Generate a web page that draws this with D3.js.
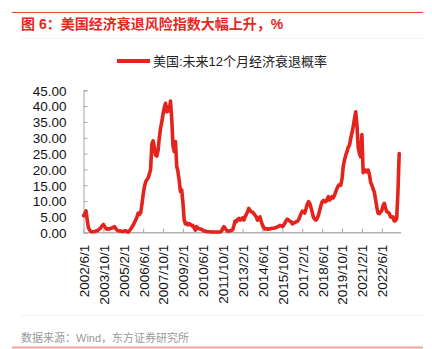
<!DOCTYPE html>
<html>
<head>
<meta charset="utf-8">
<script src="https://cdn.jsdelivr.net/npm/d3@7/dist/d3.min.js"></script>
<style>
  html, body { margin: 0; padding: 0; background: #fff; }
  svg { display: block; }
  text { font-family: "Liberation Sans", Arial, "Noto Sans CJK SC", sans-serif; }
</style>
</head>
<body>
<script>
// Monthly series, first month 2002/6, one value per month (%)
const startYear = 2002;
const startMonth = 6;
const recessionProb = [
  5.4, 6.0, 6.9, 4.0, 1.5, 0.8, 0.4, 0.3, 0.3, 0.4, 0.5, 0.6,
  0.9, 1.2, 1.6, 2.2, 2.6, 2.0, 1.4, 1.1, 1.2, 1.2, 1.4, 1.5,
  1.7, 1.9, 1.3, 0.8, 0.6, 0.5, 0.5, 0.4, 0.4, 0.5, 0.6, 0.3,
  0.2, 0.6, 1.2, 1.8, 2.4, 3.2, 4.0, 5.0, 6.2, 5.8, 6.3, 9.0,
  12.0, 14.5, 16.0, 16.8, 17.3, 18.5, 20.0, 28.0, 29.0, 26.8, 24.5, 24.2,
  26.0, 30.0, 33.0, 35.0, 37.5, 39.5, 40.9, 38.2, 39.8, 38.5, 41.6, 36.0,
  27.5, 25.6, 28.8, 21.0, 19.3, 16.5, 13.0, 13.5, 9.5, 4.0, 2.8, 3.0,
  2.5, 2.9, 2.6, 2.2, 2.3, 1.5, 0.8, 1.9, 1.5, 1.2, 1.2, 1.0,
  0.8, 0.5, 0.5, 0.4, 0.3, 0.3, 0.3, 0.2, 0.2, 0.2, 0.2, 0.2,
  0.2, 0.2, 0.2, 0.6, 1.3, 1.9, 1.4, 0.8, 0.5, 0.5, 0.6, 0.7,
  0.9, 2.2, 3.7, 3.5, 4.2, 4.5, 4.0, 4.3, 4.7, 4.0, 5.0, 5.8,
  6.6, 7.7, 7.0, 6.6, 6.5, 6.1, 5.5, 5.0, 4.0, 4.3, 5.0, 3.5,
  2.4, 1.6, 1.2, 1.3, 1.1, 1.2, 1.2, 1.3, 1.4, 1.4, 1.5, 1.7,
  1.8, 2.0, 2.3, 2.2, 1.9, 2.3, 3.0, 3.8, 4.3, 4.0, 3.6, 3.5,
  2.8, 3.0, 3.2, 3.4, 3.6, 4.0, 5.0, 6.0, 6.8, 6.5, 6.2, 7.5,
  9.0, 9.8, 9.3, 8.0, 6.5, 4.8, 4.3, 4.0, 4.5, 5.5, 7.0, 8.5,
  9.8, 10.2, 9.8, 9.8, 10.5, 11.4, 10.3, 10.8, 11.4, 11.0, 11.9, 13.0,
  14.0, 14.8, 15.2, 15.0, 17.0, 21.0, 23.0, 24.5, 25.6, 27.0, 27.6, 29.8,
  31.5, 33.5, 36.0, 38.2, 34.0, 27.0, 25.0, 24.0, 31.0, 19.0, 19.5, 19.8,
  19.2, 19.8, 18.5, 16.0, 15.0, 13.8, 12.8, 10.5, 8.0, 6.2, 6.0, 6.5,
  7.0, 8.5, 9.3, 7.8, 6.6, 6.5, 6.1, 5.0, 4.8, 5.0, 3.7, 3.8,
  4.5, 13.0, 25.0
];
const yTicks = [0, 5, 10, 15, 20, 25, 30, 35, 40, 45];
const xTickEvery = 16;
const seriesName = "美国:未来12个月经济衰退概率";
const titleText = "图 6：美国经济衰退风险指数大幅上升，%";
const sourceText = "数据来源：Wind，东方证券研究所";

// Month labels in the form YYYY/M/1
const months = recessionProb.map((_, i) => {
  const m0 = startMonth - 1 + i;
  return `${startYear + Math.floor(m0 / 12)}/${(m0 % 12) + 1}/1`;
});
const data = recessionProb.map((v, i) => ({ month: months[i], value: v }));

const W = 432, H = 349;
const svg = d3.select("body").append("svg").attr("width", W).attr("height", H);

const plot = { left: 83.5, right: 399.2, top: 90.3, bottom: 232.7 };

const x = d3.scalePoint().domain(months).range([plot.left, plot.right]);
const y = d3.scaleLinear().domain([0, 45]).range([plot.bottom, plot.top]);

// Frame lines: top red rule, faint separators, bottom pink rule
svg.append("line").attr("x1", 12).attr("x2", 423).attr("y1", 12.5).attr("y2", 12.5)
  .attr("stroke", "#e8413a").attr("stroke-width", 1);
svg.append("line").attr("x1", 20).attr("x2", 423).attr("y1", 38.5).attr("y2", 38.5)
  .attr("stroke", "#f5f5f5").attr("stroke-width", 1);
svg.append("line").attr("x1", 20).attr("x2", 423).attr("y1", 315.5).attr("y2", 315.5)
  .attr("stroke", "#f5f5f5").attr("stroke-width", 1);
svg.append("line").attr("x1", 12).attr("x2", 423).attr("y1", 347.5).attr("y2", 347.5)
  .attr("stroke", "#f2a3a0").attr("stroke-width", 2);

// Title
svg.append("text").attr("x", 21).attr("y", 28.5)
  .attr("font-family", "'Noto Sans CJK SC', sans-serif")
  .attr("font-size", 14).attr("font-weight", "bold").attr("fill", "#e8261e")
  .text(titleText);

// Legend
svg.append("line").attr("x1", 117).attr("x2", 150).attr("y1", 61).attr("y2", 61)
  .attr("stroke", "#e3231c").attr("stroke-width", 4);
svg.append("text").attr("x", 153).attr("y", 65.5)
  .attr("font-family", "'Noto Sans CJK SC', sans-serif")
  .attr("font-size", 13).attr("fill", "#222").text(seriesName);

// Y axis
const yAxis = d3.axisRight(y).tickValues(yTicks).tickSize(4).tickFormat(d3.format(".2f"));
const gy = svg.append("g").attr("transform", `translate(${plot.left},0)`).call(yAxis);
gy.select(".domain").attr("stroke", "#a6a6a6");
gy.selectAll(".tick line").attr("stroke", "#a6a6a6");
gy.selectAll(".tick text").attr("x", -17).attr("text-anchor", "end")
  .attr("font-size", 13.5).attr("fill", "#111").attr("dy", "0.36em");

// X axis with inward ticks
const xAxis = d3.axisTop(x)
  .tickValues(months.filter((_, i) => i % xTickEvery === 0))
  .tickSize(4).tickSizeOuter(0);
const gx = svg.append("g").attr("transform", `translate(0,${plot.bottom})`).call(xAxis);
gx.select(".domain").remove();
gx.selectAll(".tick line").attr("stroke", "#a6a6a6");
gx.selectAll(".tick text")
  .attr("transform", "rotate(-90)")
  .attr("x", -12).attr("y", 0).attr("dy", "0.36em")
  .attr("text-anchor", "end")
  .attr("font-size", 13.5).attr("fill", "#111");
svg.append("line").attr("x1", plot.left).attr("x2", 401).attr("y1", plot.bottom).attr("y2", plot.bottom)
  .attr("stroke", "#b3b3b3").attr("stroke-width", 1.5);

// Series line
const line = d3.line().x(d => x(d.month)).y(d => y(d.value));
svg.append("path").datum(data).attr("d", line)
  .attr("fill", "none").attr("stroke", "#e3231c").attr("stroke-width", 3.6)
  .attr("stroke-linejoin", "round").attr("stroke-linecap", "round");

// Source note
svg.append("text").attr("x", 21).attr("y", 342)
  .attr("font-family", "'Noto Sans CJK SC', sans-serif")
  .attr("font-size", 11).attr("fill", "#9a9a9a").text(sourceText);
</script>
</body>
</html>
